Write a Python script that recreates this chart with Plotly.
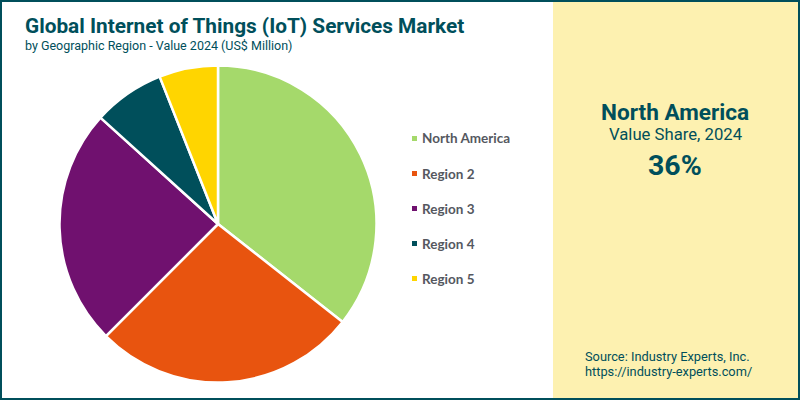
import plotly.graph_objects as go

WIDTH = 800
HEIGHT = 400
TEAL = '#004f5b'

regions = ['North America', 'Region 2', 'Region 3', 'Region 4', 'Region 5']
shares = [35.6, 26.9, 24.2, 7.3, 6.0]
colors = ['#a5d96b', '#e8540f', '#70116f', '#004f5b', '#ffd500']

title_text = 'Global Internet of Things (IoT) Services Market'
subtitle_text = 'by Geographic Region - Value 2024 (US$ Million)'
source_lines = ['Source: Industry Experts, Inc.', 'https://industry-experts.com/']


def px_x(x):
    return x / WIDTH


def px_y(y):
    return 1 - y / HEIGHT


def label(x, y, text, size, color=TEAL, family='Roboto', xanchor='left'):
    return dict(
        x=px_x(x), y=px_y(y), xref='paper', yref='paper', text=text,
        showarrow=False, xanchor=xanchor, yanchor='middle',
        font=dict(family=family, size=size, color=color),
    )


fig = go.Figure(
    go.Pie(
        labels=regions,
        values=shares,
        sort=False,
        direction='clockwise',
        rotation=0,
        textinfo='none',
        marker=dict(colors=colors, line=dict(color='white', width=2.5)),
        domain=dict(x=[px_x(59.5), px_x(376.5)], y=[px_y(382.5), px_y(65.5)]),
        hovertemplate='%{label}: %{value}%<extra></extra>',
    )
)

shapes = [
    # share panel on the right
    dict(type='rect', xref='paper', yref='paper', layer='below',
         x0=px_x(553), x1=1, y0=0, y1=1,
         fillcolor='#fdf1b0', line_width=0),
    # frame
    dict(type='rect', xref='paper', yref='paper', layer='above',
         x0=0, x1=px_x(2), y0=0, y1=1, fillcolor=TEAL, line_width=0),
    dict(type='rect', xref='paper', yref='paper', layer='above',
         x0=px_x(798), x1=1, y0=0, y1=1, fillcolor=TEAL, line_width=0),
    dict(type='rect', xref='paper', yref='paper', layer='above',
         x0=0, x1=1, y0=px_y(2), y1=1, fillcolor=TEAL, line_width=0),
    dict(type='rect', xref='paper', yref='paper', layer='above',
         x0=0, x1=1, y0=0, y1=px_y(398), fillcolor=TEAL, line_width=0),
]

annotations = [
    label(23, 26, f'<b>{title_text}</b>', 20.8),
    label(23, 45, subtitle_text, 12.5),
    label(675, 112, '<b>North America</b>', 22.6, xanchor='center'),
    label(675, 134, 'Value Share, 2024', 16.7, xanchor='center'),
    label(675, 165.5, '<b>36%</b>', 28.5, xanchor='center'),
    label(583, 356, source_lines[0], 12.8),
    label(583, 371, source_lines[1], 12.8),
]

# legend is drawn by hand, plotly won't space entries 35px apart
for i, (region, color) in enumerate(zip(regions, colors)):
    y = 138.5 + i * 35
    shapes.append(dict(type='rect', xref='paper', yref='paper',
                       x0=px_x(412), x1=px_x(417),
                       y0=px_y(y + 2.5), y1=px_y(y - 2.5),
                       fillcolor=color, line_width=0))
    annotations.append(label(420, y, f'<b>{region}</b>', 13.5,
                             color='#55585f', family='Lato'))

fig.update_layout(
    width=WIDTH,
    height=HEIGHT,
    margin=dict(l=0, r=0, t=0, b=0),
    paper_bgcolor='white',
    showlegend=False,
    shapes=shapes,
    annotations=annotations,
)

# page default margin would shift the whole chart by 8px
fig.write_html('out.html', config={'displayModeBar': False},
               post_script="document.body.style.margin = '0';")
